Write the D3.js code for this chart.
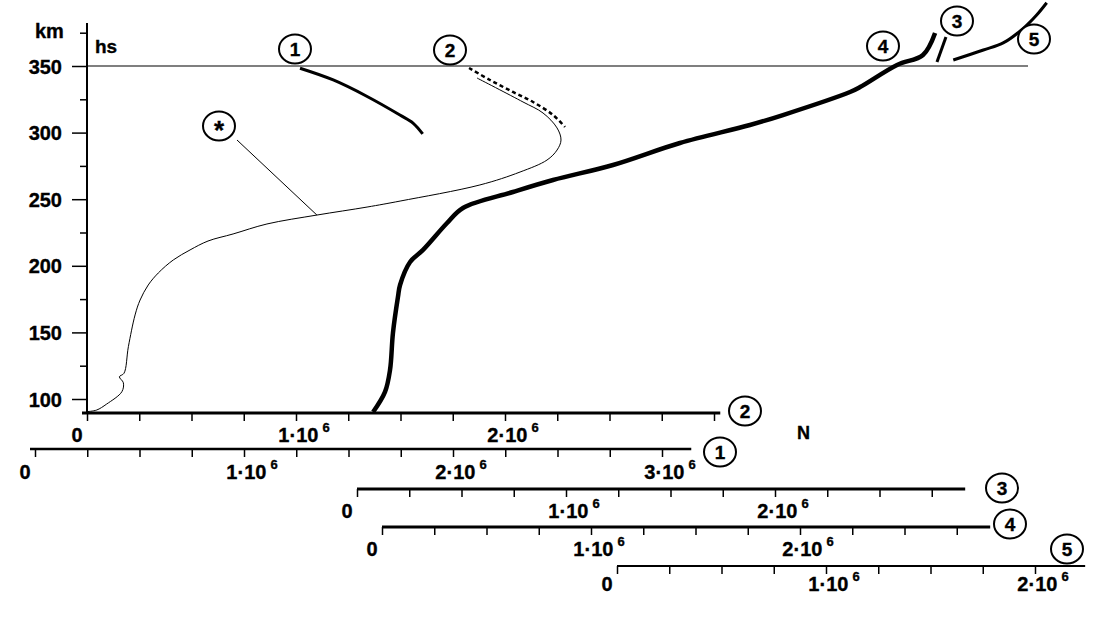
<!DOCTYPE html>
<html>
<head>
<meta charset="utf-8">
<script src="https://cdn.jsdelivr.net/npm/d3@7"></script>
<style>
  body { margin: 0; background: #fff; }
  text { font-family: "Liberation Sans", Arial, sans-serif; font-weight: bold; fill: #000; stroke: #000; stroke-width: 0.35px; }
</style>
</head>
<body>
<div id="chart"></div>
<script>
// heights (km) on the vertical axis
const hMajor = [100, 150, 200, 250, 300, 350]
const hMinor = [125, 175, 225, 275, 325, 375]
const hs = 350

// horizontal scales, N in units of 1e6; order: 2, 1, 3, 4, 5
const axisNames = ["2", "1", "3", "4", "5"]
const axisMax = [3.03, 3.14, 2.91, 2.91, 2.24]
const axisLabels = [[1, 2], [1, 2, 3], [1, 2], [1, 2], [1, 2]]

// curve "*" (thin), read against scale 2
const starN = [0, 0.046, 0.094, 0.167, 0.174, 0.155, 0.177, 0.198, 0.23, 0.254, 0.293, 0.341, 0.413, 0.493, 0.579, 0.699, 0.861, 1.10, 1.34, 1.498, 1.88, 2.072, 2.201, 2.249, 2.268, 2.249, 2.182, 2.086, 1.866]
const starH = [90.5, 91.7, 96.2, 105.5, 112.2, 116.7, 119.3, 139.3, 163.1, 174.3, 185.6, 194.6, 204.4, 211.9, 218.6, 223.9, 231.4, 238.1, 244.1, 248.6, 260.7, 270.4, 279.4, 286.9, 294.4, 303.5, 314.7, 323, 341]

// curve 1, scale 1
const n1 = [1.268, 1.427, 1.587, 1.746, 1.81, 1.855]
const h1 = [348.3, 339.5, 327.3, 313.2, 307.0, 299.0]

// curve 2 (dotted), scale 2
const n2 = [1.828, 1.928, 2.038, 2.134, 2.23, 2.287]
const h2 = [348.5, 339.5, 330.5, 323, 313.2, 304.2]

// thick profile, scale 3
const nThick = [0.077, 0.134, 0.158, 0.172, 0.196, 0.206, 0.254, 0.316, 0.431, 0.507, 0.746, 0.938, 1.225, 1.545, 1.88, 2.038, 2.359, 2.407, 2.584, 2.708, 2.766]
const hThick = [90.2, 105.3, 121.8, 149.6, 176.6, 185.6, 202.9, 211.9, 232.1, 243.4, 255.4, 264.4, 275.7, 292.2, 305.7, 313.2, 330.5, 334.2, 350.8, 358.3, 374.8]

// curve 3, scale 3
const n3 = [2.775, 2.818]
const h3 = [353, 371.8]

// curve 5, scale 5
const n5 = [1.609, 1.753, 1.85, 1.944, 2.008, 2.056]
const h5 = [354.5, 362, 367.5, 378.3, 388.3, 397.5]

const width = 1099, height = 635
const pxPerUnit = 209
const axisLayout = [
  {y: 413, x0: 87, start: 82, w: 3, ly: 29},
  {y: 449, x0: 35, start: 30, w: 2.5, ly: 30},
  {y: 489, x0: 357, start: 357, w: 3, ly: 29},
  {y: 527, x0: 382, start: 382, w: 3, ly: 29},
  {y: 566, x0: 617, start: 617, w: 2, ly: 25}
]

const svg = d3.select("#chart").append("svg")
  .attr("width", width)
  .attr("height", height)

const y = d3.scaleLinear().domain([100, 350]).range([399, 66])

const xs = axisLayout.map((a, i) => d3.scaleLinear()
  .domain([0, axisMax[i]])
  .range([a.x0, a.x0 + axisMax[i] * pxPerUnit]))
const xOf = name => xs[axisNames.indexOf(name)]

// vertical axis
const yAxisX = 87
svg.append("line")
  .attr("x1", yAxisX).attr("x2", yAxisX)
  .attr("y1", 23).attr("y2", 413)
  .attr("stroke", "black").attr("stroke-width", 2)

svg.append("g").attr("transform", `translate(${yAxisX},0)`)
  .call(d3.axisLeft(y).tickValues(hMajor).tickSize(15).tickFormat(""))
svg.append("g").attr("transform", `translate(${yAxisX},0)`)
  .call(d3.axisLeft(y).tickValues(hMinor).tickSize(7).tickFormat(""))
svg.selectAll(".domain").remove()
svg.selectAll(".tick line").attr("stroke-width", 1.5)

svg.append("g").selectAll("text")
  .data(hMajor)
  .enter().append("text")
  .attr("x", 62)
  .attr("y", d => y(d) + 7.5)
  .attr("text-anchor", "end")
  .attr("font-size", 20)
  .text(d => d)

svg.append("text").attr("x", 35).attr("y", 38).attr("font-size", 20).text("km")
svg.append("text").attr("x", 95).attr("y", 53).attr("font-size", 19).text("hs")

// hs line
svg.append("line")
  .attr("x1", yAxisX).attr("x2", 1028)
  .attr("y1", y(hs)).attr("y2", y(hs))
  .attr("stroke", "black").attr("stroke-width", 1.2)

// horizontal axes
axisLayout.forEach((a, i) => {
  const x = xs[i]
  const g = svg.append("g").attr("transform", `translate(0,${a.y})`)
  g.call(d3.axisBottom(x).tickValues(d3.range(0, axisMax[i] + 1e-9, 0.25)).tickSize(8).tickFormat(""))
  g.select(".domain").remove()
  g.selectAll(".tick line").attr("stroke-width", 1.5)
  g.append("line")
    .attr("x1", a.start).attr("x2", x.range()[1])
    .attr("stroke", "black").attr("stroke-width", a.w)

  g.append("text")
    .attr("x", x(0) - 10)
    .attr("y", a.ly)
    .attr("text-anchor", "middle")
    .attr("font-size", 20)
    .text("0")

  const lab = g.selectAll(".lab")
    .data(axisLabels[i])
    .enter().append("text")
    .attr("class", "lab")
    .attr("x", d => x(d) + 8)
    .attr("y", a.ly)
    .attr("text-anchor", "middle")
    .attr("font-size", 20)
  lab.append("tspan").text(d => d + "·10")
  lab.append("tspan").attr("dx", 4).attr("dy", -10).attr("font-size", 13).text("6")
})

// curves
const line = d3.line().x(d => d[0]).y(d => d[1]).curve(d3.curveCatmullRom.alpha(0.5))
const pts = (ns, hsArr, sc) => ns.map((n, i) => [sc(n), y(hsArr[i])])

svg.append("path")
  .attr("d", line(pts(starN, starH, xOf("2"))))
  .attr("fill", "none").attr("stroke", "black").attr("stroke-width", 1)

svg.append("path")
  .attr("d", line(pts(n2, h2, xOf("2"))))
  .attr("fill", "none").attr("stroke", "black").attr("stroke-width", 2.5)
  .attr("stroke-dasharray", "4,3")

svg.append("path")
  .attr("d", line(pts(n1, h1, xOf("1"))))
  .attr("fill", "none").attr("stroke", "black").attr("stroke-width", 3)

svg.append("path")
  .attr("d", line(pts(nThick, hThick, xOf("3"))))
  .attr("fill", "none").attr("stroke", "black").attr("stroke-width", 4.5)

svg.append("path")
  .attr("d", line(pts(n3, h3, xOf("3"))))
  .attr("fill", "none").attr("stroke", "black").attr("stroke-width", 3)

svg.append("path")
  .attr("d", line(pts(n5, h5, xOf("5"))))
  .attr("fill", "none").attr("stroke", "black").attr("stroke-width", 3)

// leader from "*" marker to its curve
const leadIdx = 17
svg.append("line")
  .attr("x1", 237).attr("y1", 140)
  .attr("x2", xOf("2")(starN[leadIdx])).attr("y2", y(starH[leadIdx]))
  .attr("stroke", "black").attr("stroke-width", 1)

// circled labels
const marks = [
  {t: "1", x: 295, y: 49}, {t: "2", x: 450, y: 50}, {t: "*", x: 219, y: 126},
  {t: "4", x: 883, y: 46}, {t: "3", x: 957, y: 21}, {t: "5", x: 1034, y: 39},
  {t: "2", x: 745, y: 411}, {t: "1", x: 720, y: 452}, {t: "3", x: 1002, y: 488},
  {t: "4", x: 1010, y: 524}, {t: "5", x: 1067, y: 549}
]
const mg = svg.append("g").selectAll("g").data(marks).enter().append("g")
  .attr("transform", d => `translate(${d.x},${d.y})`)
mg.append("ellipse").attr("rx", 16).attr("ry", 14.5)
  .attr("fill", "white").attr("stroke", "black").attr("stroke-width", 2)
mg.append("text")
  .attr("text-anchor", "middle")
  .attr("y", d => d.t === "*" ? 13 : 7)
  .attr("font-size", d => d.t === "*" ? 26 : 19)
  .text(d => d.t)

svg.append("text").attr("x", 797).attr("y", 439).attr("font-size", 18).text("N")
</script>
</body>
</html>
